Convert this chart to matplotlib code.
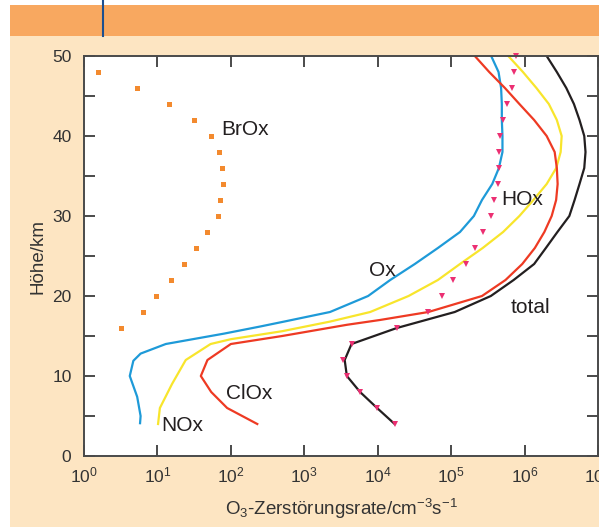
import matplotlib
matplotlib.use('Agg')
import matplotlib.pyplot as plt
from matplotlib.patches import Rectangle
from matplotlib.lines import Line2D

plt.rcParams['font.family'] = ['Liberation Sans', 'DejaVu Sans']
plt.rcParams['mathtext.fontset'] = 'custom'
plt.rcParams['mathtext.rm'] = 'Liberation Sans'
plt.rcParams['mathtext.it'] = 'Liberation Sans'
plt.rcParams['mathtext.bf'] = 'Liberation Sans'

# ---------- Daten (Höhe in km, Rate in cm^-3 s^-1) ----------
ox_km = [4.1, 5, 7.4, 10, 11.9, 12.8, 14, 15.3, 16.2, 16.8, 18, 20, 22, 24, 26, 28,
         30, 32, 34, 36, 38, 40, 42, 44, 46, 48, 50]
ox_rate = [5.8, 5.9, 5.3, 4.2, 4.7, 5.9, 13, 81, 255, 530, 2240, 7400, 14800, 32000,
           66000, 1.32e5, 2.04e5, 2.63e5, 3.63e5, 4.47e5, 5.0e5, 5.0e5, 4.9e5, 4.9e5,
           4.79e5, 4.42e5, 3.51e5]

nox_km = [4, 6, 9, 12, 14, 14.6, 15.6, 16.8, 18, 20, 22, 24, 26, 28, 30, 32, 34, 36,
          38, 40, 42, 44, 46, 48, 50]
nox_rate = [10.2, 10.8, 15.8, 24.3, 53, 100, 500, 2240, 7900, 26300, 66000, 1.32e5,
            2.69e5, 5.1e5, 8.5e5, 1.32e6, 2.0e6, 2.7e6, 3.1e6, 3.2e6, 2.75e6, 2.14e6,
            1.45e6, 9.5e5, 6.0e5]

clox_km = [4, 6, 8, 10, 12, 14, 15, 16.4, 17, 18, 20, 22, 24, 26, 28, 30, 32, 34, 36,
           38, 40, 42, 44, 46, 48, 50]
clox_rate = [229, 89, 54, 39, 48, 100, 500, 3800, 10700, 49000, 2.63e5, 5.5e5, 9.3e5,
             1.38e6, 1.86e6, 2.34e6, 2.69e6, 2.82e6, 2.75e6, 2.57e6, 2.0e6, 1.35e6,
             8.5e5, 5.4e5, 3.3e5, 2.1e5]

total_km = [4, 6, 8, 10, 12, 14, 16, 18, 20, 22, 24, 26, 28, 30, 32, 34, 36, 38, 40,
            42, 44, 46, 48, 50]
total_rate = [17000, 9800, 5750, 3800, 3550, 4400, 18200, 1.12e5, 3.47e5, 7.1e5,
              1.35e6, 1.95e6, 2.8e6, 4.07e6, 4.8e6, 5.6e6, 6.5e6, 6.76e6, 6.5e6,
              5.6e6, 4.7e6, 3.7e6, 2.75e6, 2.0e6]

hox_km = [4, 6, 8, 10, 12, 14, 16, 18, 20, 22, 24, 26, 28, 30, 32, 34, 36, 38, 40,
          42, 44, 46, 48, 50]
hox_rate = [17000, 9800, 5750, 3800, 3400, 4400, 18200, 47900, 74100, 1.07e5, 1.58e5,
            2.14e5, 2.75e5, 3.47e5, 3.89e5, 4.32e5, 4.52e5, 4.42e5, 4.57e5, 5.01e5,
            5.75e5, 6.76e5, 7.24e5, 7.76e5]

brox_km = [16, 18, 20, 22, 24, 26, 28, 30, 32, 34, 36, 38, 40, 42, 44, 46, 48]
brox_rate = [3.2, 6.4, 9.7, 15.3, 23, 33, 48, 67, 71, 77, 75, 68, 53, 31, 14.5, 5.3, 1.55]

# ---------- Figur ----------
W, H = 599, 527
fig = plt.figure(figsize=(W / 100, H / 100), dpi=100, facecolor='#fde5c2')

# weißer Rand oben/links, orangefarbener Balken, blaue Linie
fig.patches.append(Rectangle((0, 0), 10 / W, 1, transform=fig.transFigure,
                             facecolor='white', edgecolor='none', zorder=0))
fig.patches.append(Rectangle((0, 1 - 5 / H), 1, 5 / H, transform=fig.transFigure,
                             facecolor='white', edgecolor='none', zorder=0))
fig.patches.append(Rectangle((10 / W, 1 - 36 / H), 1, 31 / H, transform=fig.transFigure,
                             facecolor='#f8a860', edgecolor='none', zorder=1))
fig.lines.append(Line2D([103 / W, 103 / W], [1 - 36 / H, 1], transform=fig.transFigure,
                        color='#1d4f8f', linewidth=1.5, zorder=2))

ax = fig.add_axes([84 / W, 71 / H, 514 / W, 400 / H])
ax.set_facecolor('white')

lw = 1.6
ax.plot(ox_rate, ox_km, color='#1e9ad8', linewidth=lw)
ax.plot(nox_rate, nox_km, color='#f8e52c', linewidth=lw)
ax.plot(clox_rate, clox_km, color='#ee3a23', linewidth=lw)
ax.plot(total_rate, total_km, color='#231f20', linewidth=lw)
ax.plot(hox_rate, hox_km, 'v', color='#ec2f72', markersize=4, markeredgewidth=0,
        clip_on=False)
ax.plot(brox_rate, brox_km, 's', color='#f38a2e', markersize=3.6, markeredgewidth=0)

# Beschriftungen der Kurven
fs = 15
ax.text(75, 40.8, 'BrOx', fontsize=fs, ha='left', va='center', color='#231f20')
ax.text(11500, 23.2, 'Ox', fontsize=fs, ha='center', va='center', color='#231f20')
ax.text(9.3e5, 32, 'HOx', fontsize=fs, ha='center', va='center', color='#231f20')
ax.text(1.2e6, 18.6, 'total', fontsize=fs, ha='center', va='center', color='#231f20')
ax.text(180, 7.8, 'ClOx', fontsize=fs, ha='center', va='center', color='#231f20')
ax.text(22, 3.8, 'NOx', fontsize=fs, ha='center', va='center', color='#231f20')

ax.set_xscale('log')
ax.set_xlim(1, 1e7)
ax.set_ylim(0, 50)
ax.set_xticks([10 ** i for i in range(8)])
ax.minorticks_off()
ax.set_yticks([0, 10, 20, 30, 40, 50])
ax.set_yticks([5, 15, 25, 35, 45], minor=True)

for s in ax.spines.values():
    s.set_color('#4a4a4a')
    s.set_linewidth(1.4)
ax.tick_params(which='both', direction='in', top=True, right=True, length=8,
               width=1.4, color='#4a4a4a', labelsize=12.5, labelcolor='#333333')
ax.tick_params(axis='y', pad=9)
ax.tick_params(axis='x', pad=7)

ax.set_xlabel(r'O$_3$-Zerstörungsrate/cm$^{-3}$s$^{-1}$', fontsize=13.5,
              color='#333333', labelpad=8)
ax.set_ylabel('Höhe/km', fontsize=13.5, color='#333333', labelpad=4)

fig.savefig('out.png', dpi=100, facecolor=fig.get_facecolor())
